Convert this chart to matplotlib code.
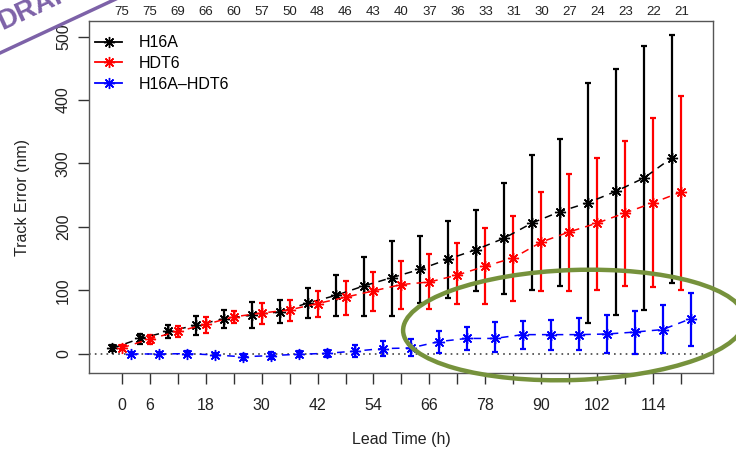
import numpy as np
import matplotlib
matplotlib.use("Agg")
import matplotlib.pyplot as plt
from matplotlib.patches import Ellipse
from matplotlib.lines import Line2D
from matplotlib.transforms import IdentityTransform

plt.rcParams['font.family'] = ['Liberation Sans', 'DejaVu Sans']

# lead times (h) and number of cases
lead = [0, 6, 12, 18, 24, 30, 36, 42, 48, 54, 60, 66, 72, 78, 84, 90, 96, 102, 108, 114, 120]
counts = [75, 75, 69, 66, 60, 57, 50, 48, 46, 43, 40, 37, 36, 33, 31, 30, 27, 24, 23, 22, 21]

# H16A track error (nm): mean, lower, upper
h16a = [8.5, 24, 35, 45, 55, 61, 66, 80, 92, 107, 120, 133, 149, 164, 182, 206, 224, 238, 256, 277, 309]
h16a_lo = [4, 16, 25, 30, 40, 41, 48, 56, 60, 60, 60, 80, 88, 99, 94, 101, 107, 49, 61, 69, 112]
h16a_hi = [13, 31, 45, 59, 69, 81, 84, 103, 124, 153, 178, 185, 209, 227, 269, 313, 339, 426, 449, 485, 503]

# HDT6
hdt6 = [9, 23, 35, 46, 58, 64, 69, 79, 89, 99, 109, 113, 124, 138, 151, 176, 192, 206, 222, 238, 255]
hdt6_lo = [5, 15, 26, 33, 48, 47, 52, 58, 61, 68, 70, 71, 78, 79, 83, 99, 99, 101, 107, 105, 101]
hdt6_hi = [13, 29, 43, 58, 67, 80, 84, 99, 115, 129, 146, 157, 175, 198, 217, 255, 284, 309, 336, 371, 407]

# difference H16A-HDT6
diff = [-0.5, -0.5, 0, -2, -5, -3, -1, 0.5, 4, 8, 9, 19, 24, 24, 30, 30, 30, 31, 34, 38, 55]
diff_lo = [-3, -3, -4, -5, -10, -8, -6, -5, -5, -4, -4, 1, 6, 3, 8, 6, 6, 1, 0, 1, 12]
diff_hi = [2, 2, 4, 1, 0, 2, 4, 6, 13, 20, 23, 35, 42, 50, 52, 53, 56, 61, 67, 76, 96]

xlabels_shown = [0, 6, 18, 30, 42, 54, 66, 78, 90, 102, 114]

W, H = 736, 458
fig = plt.figure(figsize=(W / 100, H / 100), dpi=100)
ax = fig.add_axes([89 / W, (H - 373) / H, (713 - 89) / W, (373 - 21) / H])

x = np.array(lead, dtype=float)
star = (8, 2, 0)

def series(xx, m, lo, hi, col):
    m = np.array(m); lo = np.array(lo); hi = np.array(hi)
    ax.errorbar(xx, m, yerr=[m - lo, hi - m], fmt='none', ecolor=col,
                elinewidth=1.6, capsize=2, capthick=1.6, zorder=3)
    ax.plot(xx, m, color=col, lw=1.1, ls=(0, (5, 4)), marker=star,
            markersize=8, markeredgewidth=1.0, zorder=4)

ax.axhline(0, color='#444444', lw=1.2, ls=(0, (1, 2.5)), zorder=1)
series(x - 2, h16a, h16a_lo, h16a_hi, 'black')
series(x, hdt6, hdt6_lo, hdt6_hi, 'red')
series(x + 2, diff, diff_lo, diff_hi, 'blue')

ax.set_xlim(-7.0, 126.8)
ax.set_ylim(-30.5, 524.5)

ax.set_xticks(lead)
ax.set_xticklabels([str(v) if v in xlabels_shown else '' for v in lead])
ax.set_yticks([0, 100, 200, 300, 400, 500])
ax.set_yticklabels(['0', '100', '200', '300', '400', '500'], rotation=90, va='center')
ax.tick_params(axis='both', length=8, width=1, color='#333333', labelsize=11.5,
               labelcolor='#222222')
ax.tick_params(axis='x', pad=10)
ax.tick_params(axis='y', pad=5)
for s in ax.spines.values():
    s.set_color('#555555')
    s.set_linewidth(1)

ax.set_xlabel('Lead Time (h)', fontsize=11.5, labelpad=14, color='#222222')
ax.set_ylabel('Track Error (nm)', fontsize=11.5, labelpad=19, color='#222222')

# sample sizes along the top
sec = ax.secondary_xaxis('top')
sec.set_xticks(lead)
sec.set_xticklabels([str(c) for c in counts])
sec.tick_params(length=0, labelsize=9.5, pad=2, labelcolor='#222222')
sec.spines['top'].set_visible(False)

handles = [Line2D([], [], color=c, lw=1.3, marker=star, markersize=8, markeredgewidth=1.0)
           for c in ['black', 'red', 'blue']]
ax.legend(handles, ['H16A', 'HDT6', 'H16A\u2013HDT6'], loc='upper left', frameon=False,
          fontsize=11.5, handlelength=1.7, handletextpad=1.0, labelspacing=0.35,
          borderaxespad=0.5, bbox_to_anchor=(-0.013, 1.0))

# annotation overlays (partly cut off at the top-left corner, as in the source)
fig.add_artist(Ellipse((574, H - 325), 342, 110, angle=2, fill=False, ec='#76923c',
                       lw=3.2, transform=IdentityTransform()))
fig.add_artist(Line2D([0, 118], [H - 53, H + 2], color='#7d62a8', lw=2.5,
                      transform=IdentityTransform()))
fig.text(2 / W, (H - 30) / H, 'DRAFT', rotation=25, rotation_mode='anchor',
         color='#7d62a8', fontsize=20, fontweight='bold', ha='left', va='baseline')

fig.savefig('out.png', dpi=100)
